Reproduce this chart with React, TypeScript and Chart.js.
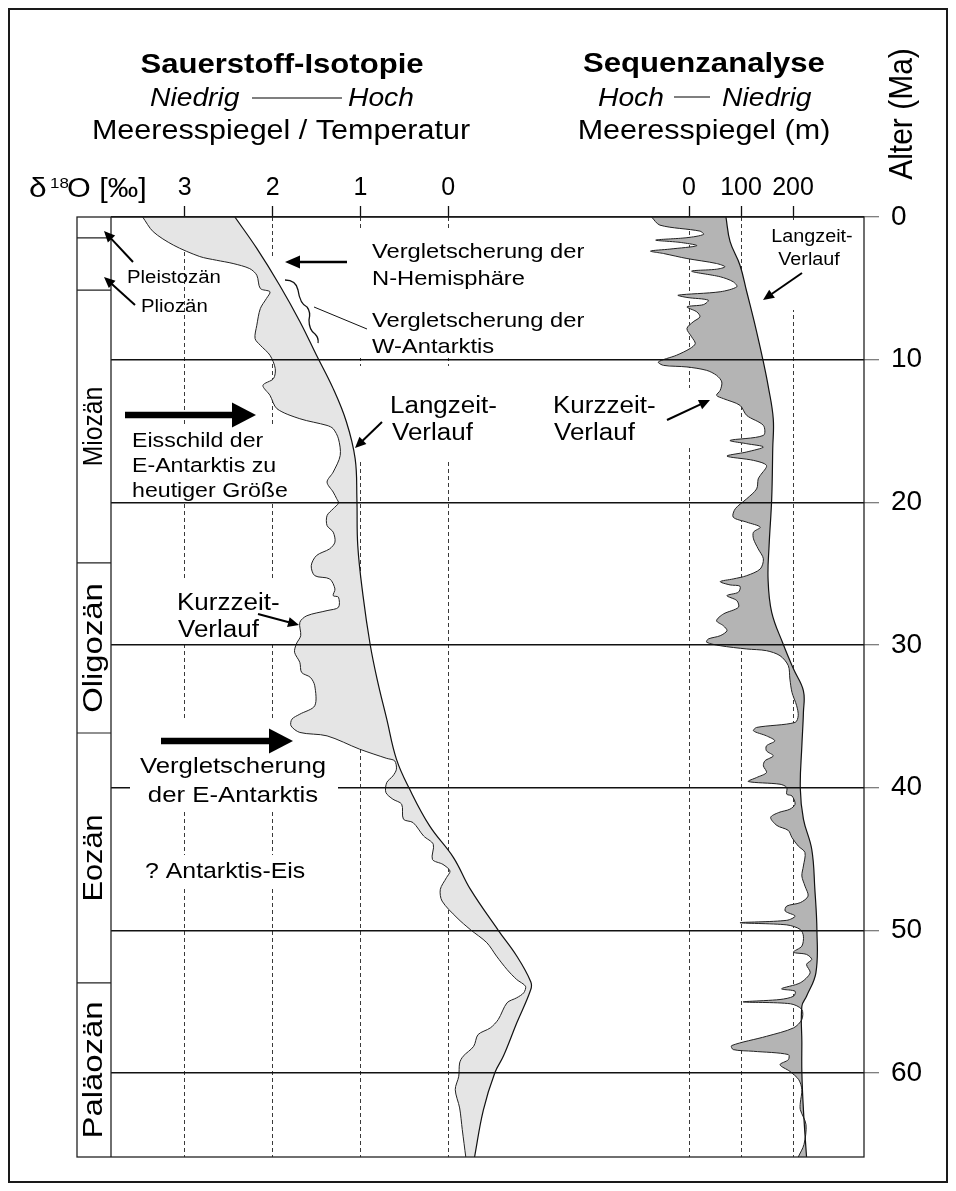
import React, { useEffect, useRef } from 'react';
import { Chart, registerables } from 'chart.js';
Chart.register(...registerables);

const FONT = '"Liberation Sans", Arial, Helvetica, sans-serif';
const S = 1.13; // horizontal stretch of the lettering
const OFF = 10; // canvas origin inside the page

// ---------- axes ----------
const ageTicks = [0, 10, 20, 30, 40, 50, 60];
const d18oTicks = [3, 2, 1, 0];
const seaTicks = [0, 100, 200];

// ---------- δ18O (‰) ----------
const d18oLongAge = [0, 2.2, 4.78, 7.32, 9.69, 12.03, 14.35, 16.94, 19.75, 23.05, 26.56, 29.93, 32.39, 35.2, 38.0, 40.1, 42.7, 44.9, 47.1, 50.0, 51.8, 53.6, 54.15, 56.5, 58.8, 60.0, 62.6, 65.89];
const d18oLongVal = [2.43, 2.18, 1.92, 1.69, 1.5, 1.31, 1.16, 1.06, 1.04, 1.03, 0.97, 0.89, 0.81, 0.7, 0.59, 0.44, 0.21, -0.06, -0.25, -0.57, -0.78, -0.94, -0.94, -0.78, -0.63, -0.53, -0.4, -0.3];

const d18oShortAge = [0, 1.03, 1.97, 2.77, 3.03, 3.26, 3.62, 4.08, 5.01, 5.24, 5.71, 6.42, 7.59, 8.52, 8.99, 9.69, 10.62, 11.33, 11.8, 12.5, 13.44, 14.14, 14.61, 14.84, 15.55, 16.71, 17.88, 18.58, 19.28, 19.75, 20.05, 20.45, 20.93, 21.63, 22.09, 22.79, 23.26, 23.73, 24.44, 25.14, 25.37, 26.07, 26.54, 26.65, 27.36, 27.59, 27.95, 28.41, 29.35, 29.93, 30.51, 31.22, 31.92, 32.27, 32.86, 34.26, 34.85, 35.2, 35.67, 36.13, 36.37, 37.3, 37.95, 38.12, 38.71, 39.18, 39.64, 40.34, 40.81, 41.16, 42.21, 42.45, 43.39, 43.97, 45.03, 45.38, 45.84, 46.31, 47.13, 47.95, 49.12, 49.94, 50.87, 51.81, 52.75, 53.45, 53.92, 54.38, 54.73, 55.08, 56.25, 56.84, 57.31, 58.13, 58.83, 59.3, 60.23, 61.17, 62.45, 63.97, 65.89];
const d18oShortVal = [3.48, 3.36, 3.13, 2.83, 2.64, 2.45, 2.26, 2.18, 2.14, 2.03, 2.07, 2.14, 2.18, 2.2, 2.14, 2.03, 1.97, 1.99, 2.11, 2.03, 1.95, 1.69, 1.38, 1.31, 1.25, 1.23, 1.31, 1.38, 1.31, 1.27, 1.25, 1.31, 1.38, 1.38, 1.31, 1.29, 1.35, 1.5, 1.56, 1.52, 1.35, 1.29, 1.31, 1.25, 1.25, 1.38, 1.61, 1.69, 1.68, 1.73, 1.75, 1.69, 1.67, 1.57, 1.52, 1.52, 1.69, 1.78, 1.79, 1.69, 1.38, 1.01, 0.7, 0.61, 0.59, 0.63, 0.7, 0.71, 0.63, 0.53, 0.51, 0.4, 0.28, 0.17, 0.18, 0.06, -0.02, 0.02, 0.09, 0.07, -0.1, -0.25, -0.44, -0.55, -0.67, -0.78, -0.88, -0.86, -0.78, -0.67, -0.57, -0.48, -0.34, -0.29, -0.17, -0.13, -0.12, -0.08, -0.13, -0.16, -0.2];

// ---------- sea level (m) ----------
const seaLongAge = [0, 1.73, 3.38, 5.24, 7.12, 8.52, 10.16, 11.8, 14.14, 16.24, 19.75, 23.03, 25.37, 27.71, 29.93, 31.69, 33.21, 34.73, 37.07, 40.06, 42.2, 44.32, 47.13, 50.01, 52.98, 54.62, 55.32, 57.89, 59.95, 62.57, 65.89];
const seaLongVal = [71, 79, 98, 111, 124, 133, 143, 152, 162, 161, 159, 154, 152, 159, 181, 201, 220, 220, 217, 214, 220, 236, 242, 246, 244, 226, 217, 217, 217, 220, 226];

const seaShortAge = [0, 0.57, 0.99, 1.22, 1.45, 1.62, 1.78, 2.01, 2.25, 2.39, 2.56, 2.91, 3.26, 3.49, 3.66, 3.8, 4.19, 4.54, 4.89, 5.24, 5.48, 5.64, 5.83, 6.14, 6.3, 6.65, 7.0, 7.35, 7.82, 8.4, 8.87, 9.22, 9.69, 10.16, 10.4, 10.51, 10.75, 11.1, 11.56, 12.15, 12.5, 12.73, 13.2, 13.91, 14.61, 15.31, 15.66, 15.89, 16.12, 16.47, 16.76, 17.06, 17.42, 18.12, 18.36, 19.06, 19.75, 20.45, 21.04, 21.39, 21.74, 22.09, 22.56, 23.26, 23.96, 24.67, 25.14, 25.37, 25.56, 25.79, 25.88, 26.3, 26.54, 26.89, 27.36, 27.83, 28.3, 28.65, 29.0, 29.35, 29.58, 29.81, 30.05, 30.28, 30.4, 30.75, 31.45, 32.39, 33.32, 34.26, 34.96, 35.43, 35.78, 36.02, 36.37, 36.72, 37.07, 37.42, 37.77, 38.12, 38.47, 38.94, 39.29, 39.57, 39.76, 39.99, 40.46, 40.58, 41.16, 41.51, 41.75, 42.09, 42.65, 43.0, 43.5, 44.09, 44.55, 45.49, 46.19, 46.9, 47.6, 48.06, 48.3, 48.65, 49.0, 49.3, 49.47, 49.62, 49.94, 50.41, 51.11, 51.53, 51.69, 52.04, 52.39, 52.98, 53.68, 54.1, 54.27, 54.62, 54.85, 55.02, 55.15, 55.55, 56.25, 56.84, 57.43, 58.08, 58.36, 58.48, 58.71, 59.07, 59.42, 59.89, 60.47, 61.17, 62.1, 62.57, 63.62, 65.02, 65.89];
const seaShortVal = [-72, -56, 21, 28, -4, -64, -17, 15, -37, -74, -49, -4, 53, 69, 53, 5, 60, 85, 92, 60, -21, -4, 37, 28, -4, 15, 21, 8, -4, 5, 12, 2, -24, -59, -49, -4, 34, 53, 63, 60, 53, 66, 98, 111, 143, 143, 79, 111, 143, 111, 73, 124, 149, 137, 133, 130, 111, 89, 85, 111, 137, 124, 124, 133, 143, 137, 111, 85, 60, 79, 98, 95, 73, 92, 95, 66, 53, 66, 73, 60, 37, 34, 60, 111, 149, 175, 191, 194, 198, 207, 210, 204, 130, 124, 149, 165, 149, 149, 162, 146, 143, 149, 130, 114, 175, 188, 188, 198, 204, 194, 172, 157, 169, 191, 198, 210, 223, 220, 217, 223, 229, 214, 188, 185, 204, 188, 98, 188, 214, 220, 217, 201, 226, 236, 226, 233, 214, 178, 204, 201, 175, 104, 195, 217, 217, 201, 149, 82, 85, 124, 191, 191, 175, 194, 211, 217, 214, 214, 225, 221, 210];

// ---------- epochs ----------
const epochNames = ['Pleistozän', 'Pliozän', 'Miozän', 'Oligozän', 'Eozän', 'Paläozän'];
const epochStart = [0, 1.47, 5.12, 24.25, 36.17, 53.69];
const epochEnd = [1.47, 5.12, 24.25, 36.17, 53.69, 65.89];
const epochLabelStretch = [1, 1, 1.03, 1.37, 1.28, 1.37];

const pts = (ages: number[], vals: number[]) => ages.map((a, i) => ({ x: vals[i], y: a }));

function txt(ctx: any, s: string, x: number, y: number, size: number, o: any = {}) {
  ctx.save();
  ctx.font = `${o.italic ? 'italic ' : ''}${o.bold ? 'bold ' : ''}${size}px ${FONT}`;
  ctx.fillStyle = '#000';
  ctx.textAlign = o.align || 'left';
  ctx.textBaseline = o.base || 'alphabetic';
  ctx.translate(x, y);
  if (o.rot) { ctx.rotate(-Math.PI / 2); ctx.scale(o.len || 1, S); } else ctx.scale(S, 1);
  ctx.fillText(s, 0, 0);
  ctx.restore();
}

function arrow(ctx: any, x1: number, y1: number, x2: number, y2: number, w: number, hl: number, hw: number) {
  const a = Math.atan2(y2 - y1, x2 - x1);
  const bx = x2 - hl * Math.cos(a), by = y2 - hl * Math.sin(a);
  ctx.save();
  ctx.strokeStyle = '#000'; ctx.fillStyle = '#000'; ctx.lineWidth = w; ctx.lineCap = 'butt';
  ctx.beginPath(); ctx.moveTo(x1, y1); ctx.lineTo(bx + 0.5 * Math.cos(a), by + 0.5 * Math.sin(a)); ctx.stroke();
  ctx.beginPath(); ctx.moveTo(x2, y2);
  ctx.lineTo(bx + hw * Math.sin(a), by - hw * Math.cos(a));
  ctx.lineTo(bx - hw * Math.sin(a), by + hw * Math.cos(a));
  ctx.closePath(); ctx.fill();
  ctx.restore();
}

// white label backgrounds (page coordinates)
const masksUnder = [
  [360, 228, 245, 130], [345, 366, 160, 94], [118, 424, 198, 80], [168, 578, 128, 67],
  [266, 258, 84, 32], [140, 855, 172, 32], [766, 220, 96, 90], [548, 388, 148, 58],
];
const masksOver = [[130, 720, 160, 34], [130, 752, 208, 58]];

const decor = {
  id: 'decor',
  beforeDatasetsDraw(chart: any) {
    const ctx = chart.ctx;
    ctx.save(); ctx.translate(-OFF, -OFF);
    ctx.fillStyle = '#fff';
    for (const [x, y, w, h] of masksUnder) ctx.fillRect(x, y, w, h);
    ctx.restore();
  },
  afterDraw(chart: any) {
    const ctx = chart.ctx;
    const ys = chart.scales.y;
    const ca = chart.chartArea;
    const L = ca.left + OFF, R = ca.right + OFF, T = ca.top + OFF, B = ca.bottom + OFF;
    const EL = 77;
    const yp = (v: number) => ys.getPixelForValue(v) + OFF;
    ctx.save(); ctx.translate(-OFF, -OFF);

    ctx.fillStyle = '#fff';
    for (const [x, y, w, h] of masksOver) ctx.fillRect(x, y, w, h);

    // frame of plot + epoch column
    ctx.strokeStyle = '#222'; ctx.lineWidth = 1.3;
    ctx.strokeRect(EL, T, R - EL, B - T);
    ctx.beginPath(); ctx.moveTo(L, T); ctx.lineTo(L, B); ctx.stroke();
    ctx.lineWidth = 1.2;
    for (let i = 1; i < epochStart.length; i++) {
      const y = yp(epochStart[i]);
      ctx.beginPath(); ctx.moveTo(EL, y); ctx.lineTo(L, y); ctx.stroke();
    }
    for (let i = 2; i < epochNames.length; i++) {
      const yc = (yp(epochStart[i]) + yp(epochEnd[i])) / 2;
      txt(ctx, epochNames[i], (EL + L) / 2 + 1, yc, 24, { rot: true, align: 'center', base: 'middle', len: epochLabelStretch[i] });
    }

    // headers
    txt(ctx, 'Sauerstoff-Isotopie', 282, 73, 27.5, { bold: true, align: 'center' });
    txt(ctx, 'Niedrig', 150, 106, 25, { italic: true });
    txt(ctx, 'Hoch', 348, 106, 25, { italic: true });
    ctx.strokeStyle = '#555'; ctx.lineWidth = 1.5;
    ctx.beginPath(); ctx.moveTo(252, 98); ctx.lineTo(342, 98); ctx.stroke();
    txt(ctx, 'Meeresspiegel / Temperatur', 281, 139, 27, { align: 'center' });
    txt(ctx, 'δ', 29, 197, 28);
    txt(ctx, '18', 50, 188, 15);
    txt(ctx, 'O [‰]', 67, 197, 27);

    txt(ctx, 'Sequenzanalyse', 704, 72, 27.5, { bold: true, align: 'center' });
    txt(ctx, 'Hoch', 598, 106, 25, { italic: true });
    txt(ctx, 'Niedrig', 722, 106, 25, { italic: true });
    ctx.beginPath(); ctx.moveTo(674, 97); ctx.lineTo(710, 97); ctx.stroke();
    txt(ctx, 'Meeresspiegel (m)', 704, 139, 27, { align: 'center' });
    txt(ctx, 'Alter (Ma)', 912, 114, 30, { rot: true, align: 'center' });

    // annotations δ18O panel
    txt(ctx, 'Pleistozän', 127, 283, 18);
    txt(ctx, 'Pliozän', 141, 312, 18);
    arrow(ctx, 133, 262, 104, 231, 2, 11, 5);
    arrow(ctx, 135, 305, 104, 277, 2, 11, 5);

    txt(ctx, 'Vergletscherung der', 372, 258, 21);
    txt(ctx, 'N-Hemisphäre', 372, 285, 21);
    arrow(ctx, 347, 262, 285, 262, 2.5, 15, 6.5);
    txt(ctx, 'Vergletscherung der', 372, 327, 21);
    txt(ctx, 'W-Antarktis', 372, 353, 21);
    ctx.strokeStyle = '#111'; ctx.lineWidth = 1.3;
    ctx.beginPath();
    ctx.moveTo(285, 280); ctx.quadraticCurveTo(296, 280, 298, 290);
    ctx.quadraticCurveTo(300, 304, 307, 307); ctx.quadraticCurveTo(311, 312, 309, 320);
    ctx.quadraticCurveTo(309, 330, 315, 334); ctx.quadraticCurveTo(319, 338, 318, 343);
    ctx.stroke();
    ctx.lineWidth = 1;
    ctx.beginPath(); ctx.moveTo(314, 307); ctx.lineTo(367, 329); ctx.stroke();

    txt(ctx, 'Langzeit-', 390, 413, 23);
    txt(ctx, 'Verlauf', 392, 440, 23);
    arrow(ctx, 382, 422, 355, 448, 2, 11, 5);

    arrow(ctx, 125, 415, 256, 415, 6.5, 24, 12.5);
    txt(ctx, 'Eisschild der', 132, 447, 20.5);
    txt(ctx, 'E-Antarktis zu', 132, 472, 20.5);
    txt(ctx, 'heutiger Größe', 132, 497, 20.5);

    txt(ctx, 'Kurzzeit-', 177, 610, 23);
    txt(ctx, 'Verlauf', 178, 637, 23);
    arrow(ctx, 258, 614, 299, 625, 2, 11, 5);

    arrow(ctx, 161, 741, 293, 741, 6.5, 24, 12.5);
    txt(ctx, 'Vergletscherung', 233, 773, 22.8, { align: 'center' });
    txt(ctx, 'der E-Antarktis', 233, 802, 22.8, { align: 'center' });

    txt(ctx, '? Antarktis-Eis', 145, 878, 22);

    // annotations sea-level panel
    txt(ctx, 'Langzeit-', 812, 242, 17.5, { align: 'center' });
    txt(ctx, 'Verlauf', 809, 265, 17.5, { align: 'center' });
    arrow(ctx, 802, 273, 763, 300, 2, 11, 5);

    txt(ctx, 'Kurzzeit-', 553, 413, 23);
    txt(ctx, 'Verlauf', 554, 440, 23);
    arrow(ctx, 667, 420, 710, 400, 2, 11, 5);

    ctx.restore();
  },
};

export default function App() {
  const ref = useRef<HTMLCanvasElement>(null);
  useEffect(() => {
    const xGrid = {
      color: '#3a3a3a', lineWidth: 1, drawOnChartArea: true, drawTicks: true,
      tickLength: 11, tickColor: '#111', tickWidth: 1.3, tickBorderDash: [],
    };
    const xTicks = { font: { family: FONT, size: 25 }, color: '#000', padding: 3, autoSkip: false, maxRotation: 0, callback: (v: any) => String(v) };
    const zeroPad = (s: any, h?: number, w?: number) => {
      if (h !== undefined) s.height = h;
      if (w !== undefined) s.width = w;
      s.paddingLeft = 0; s.paddingRight = 0; s.paddingTop = 0; s.paddingBottom = 0;
    };
    const chart = new Chart(ref.current as HTMLCanvasElement, {
      type: 'line',
      data: {
        datasets: [
          { label: 'δ18O Langzeit', data: pts(d18oLongAge, d18oLongVal), xAxisID: 'xD', yAxisID: 'y', borderColor: '#111', borderWidth: 1.2, pointRadius: 0, fill: false, tension: 0.4 },
          { label: 'δ18O Kurzzeit', data: pts(d18oShortAge, d18oShortVal), xAxisID: 'xD', yAxisID: 'y', borderColor: '#222', borderWidth: 1, pointRadius: 0, fill: 0, backgroundColor: '#e5e5e5', tension: 0.3 },
          { label: 'Meeresspiegel Langzeit', data: pts(seaLongAge, seaLongVal), xAxisID: 'xS', yAxisID: 'y', borderColor: '#111', borderWidth: 1.2, pointRadius: 0, fill: false, tension: 0.4 },
          { label: 'Meeresspiegel Kurzzeit', data: pts(seaShortAge, seaShortVal), xAxisID: 'xS', yAxisID: 'y', borderColor: '#222', borderWidth: 1, pointRadius: 0, fill: 2, backgroundColor: '#b4b4b4', tension: 0.3 },
        ],
      } as any,
      options: {
        indexAxis: 'y',
        animation: false,
        responsive: true,
        maintainAspectRatio: false,
        events: [],
        layout: { padding: { left: 101, right: 0, top: 0, bottom: 24 } },
        plugins: { legend: { display: false }, tooltip: { enabled: false }, title: { display: false } },
        scales: {
          xD: {
            type: 'linear', axis: 'x', position: 'top', stack: 'top', stackWeight: 449, weight: 1,
            reverse: true, min: -1.273, max: 3.8405,
            afterBuildTicks: (s: any) => { s.ticks = d18oTicks.map((v) => ({ value: v })); },
            afterFit: (s: any) => zeroPad(s, 207),
            grid: xGrid, border: { display: false, dash: [4, 3] }, ticks: xTicks,
          },
          xS: {
            type: 'linear', axis: 'x', position: 'top', stack: 'top', stackWeight: 304, weight: 0,
            min: -248.1, max: 336.5,
            afterBuildTicks: (s: any) => { s.ticks = seaTicks.map((v) => ({ value: v })); },
            afterFit: (s: any) => zeroPad(s, 207),
            grid: xGrid, border: { display: false, dash: [4, 3] }, ticks: xTicks,
          },
          y: {
            type: 'linear', position: 'right', reverse: true, min: 0, max: 65.89,
            afterBuildTicks: (s: any) => { s.ticks = ageTicks.map((v) => ({ value: v })); },
            afterFit: (s: any) => zeroPad(s, undefined, 82),
            grid: { z: 1, color: '#111', lineWidth: 1.5, tickLength: 15, tickColor: '#555', tickWidth: 1, drawOnChartArea: true },
            border: { display: false },
            ticks: { font: { family: FONT, size: 28 }, color: '#000', padding: 12, autoSkip: false, callback: (v: any) => String(v) },
          },
        },
      } as any,
      plugins: [decor],
    });
    return () => chart.destroy();
  }, []);
  return (
    <div style={{ width: 940, height: 1175, border: '2px solid #1a1a1a', boxSizing: 'border-box', position: 'relative', background: '#fff' }}>
      <div style={{ position: 'absolute', left: 0, top: 0, width: 936, height: 1171 }}>
        <canvas ref={ref} />
      </div>
    </div>
  );
}
